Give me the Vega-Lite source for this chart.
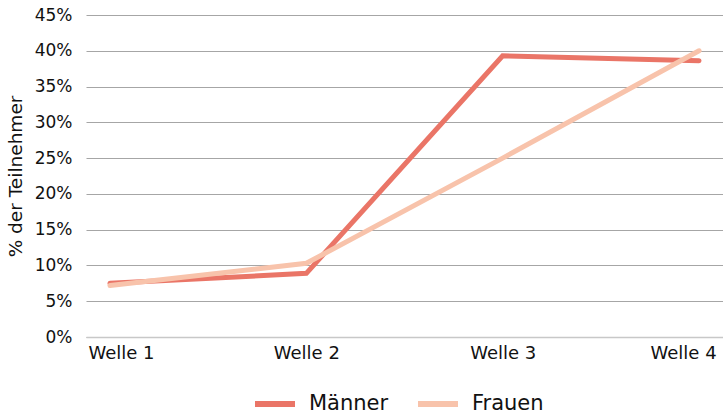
{
  "$schema": "https://vega.github.io/schema/vega-lite/v6.json",
  "autosize": {"type": "none"},
  "width": 637,
  "height": 322,
  "padding": {"left": 86, "top": 15, "right": 0, "bottom": 79},
  "background": "white",
  "config": {
    "view": {"stroke": null},
    "font": "DejaVu Sans"
  },
  "data": {
    "values": [
      {"welle": "Welle 1", "gruppe": "Männer", "wert": 0.075},
      {"welle": "Welle 2", "gruppe": "Männer", "wert": 0.089},
      {"welle": "Welle 3", "gruppe": "Männer", "wert": 0.393},
      {"welle": "Welle 4", "gruppe": "Männer", "wert": 0.386},
      {"welle": "Welle 1", "gruppe": "Frauen", "wert": 0.072},
      {"welle": "Welle 2", "gruppe": "Frauen", "wert": 0.103},
      {"welle": "Welle 3", "gruppe": "Frauen", "wert": 0.250},
      {"welle": "Welle 4", "gruppe": "Frauen", "wert": 0.400}
    ]
  },
  "mark": {"type": "line", "strokeWidth": 5, "strokeCap": "round", "strokeJoin": "miter"},
  "encoding": {
    "x": {
      "field": "welle",
      "type": "ordinal",
      "scale": {"type": "point", "padding": 0.122},
      "axis": {
        "title": null,
        "labelAngle": 0,
        "labelFontSize": 18,
        "labelColor": "#111111",
        "labelPadding": 7,
        "labelOffset": {"expr": "datum.label == 'Welle 1' ? 11 : datum.label == 'Welle 4' ? -16 : 0"},
        "ticks": false,
        "domain": true,
        "domainColor": "#c8c8c8",
        "domainWidth": 1.5,
        "grid": false
      }
    },
    "y": {
      "field": "wert",
      "type": "quantitative",
      "scale": {"domain": [0, 0.45], "nice": false},
      "axis": {
        "title": "% der Teilnehmer",
        "titleFontSize": 18.5,
        "titleFontWeight": "normal",
        "titleColor": "#111111",
        "titlePadding": 9,
        "format": ".0%",
        "values": [0, 0.05, 0.1, 0.15, 0.2, 0.25, 0.3, 0.35, 0.4, 0.45],
        "labelFontSize": 17,
        "labelColor": "#111111",
        "labelPadding": 14,
        "ticks": false,
        "domain": false,
        "grid": true,
        "gridColor": "#a6a6a6",
        "gridWidth": 1.2
      }
    },
    "color": {
      "field": "gruppe",
      "type": "nominal",
      "sort": ["Männer", "Frauen"],
      "scale": {"domain": ["Männer", "Frauen"], "range": ["#EA7567", "#F8C3AB"]},
      "legend": {
        "title": null,
        "orient": "none",
        "direction": "horizontal",
        "legendX": 166,
        "legendY": 366,
        "symbolType": "stroke",
        "symbolStrokeWidth": 6,
        "symbolSize": 1600,
        "labelFontSize": 21,
        "labelColor": "#111111",
        "labelOffset": 11,
        "columnPadding": 17
      }
    }
  }
}
